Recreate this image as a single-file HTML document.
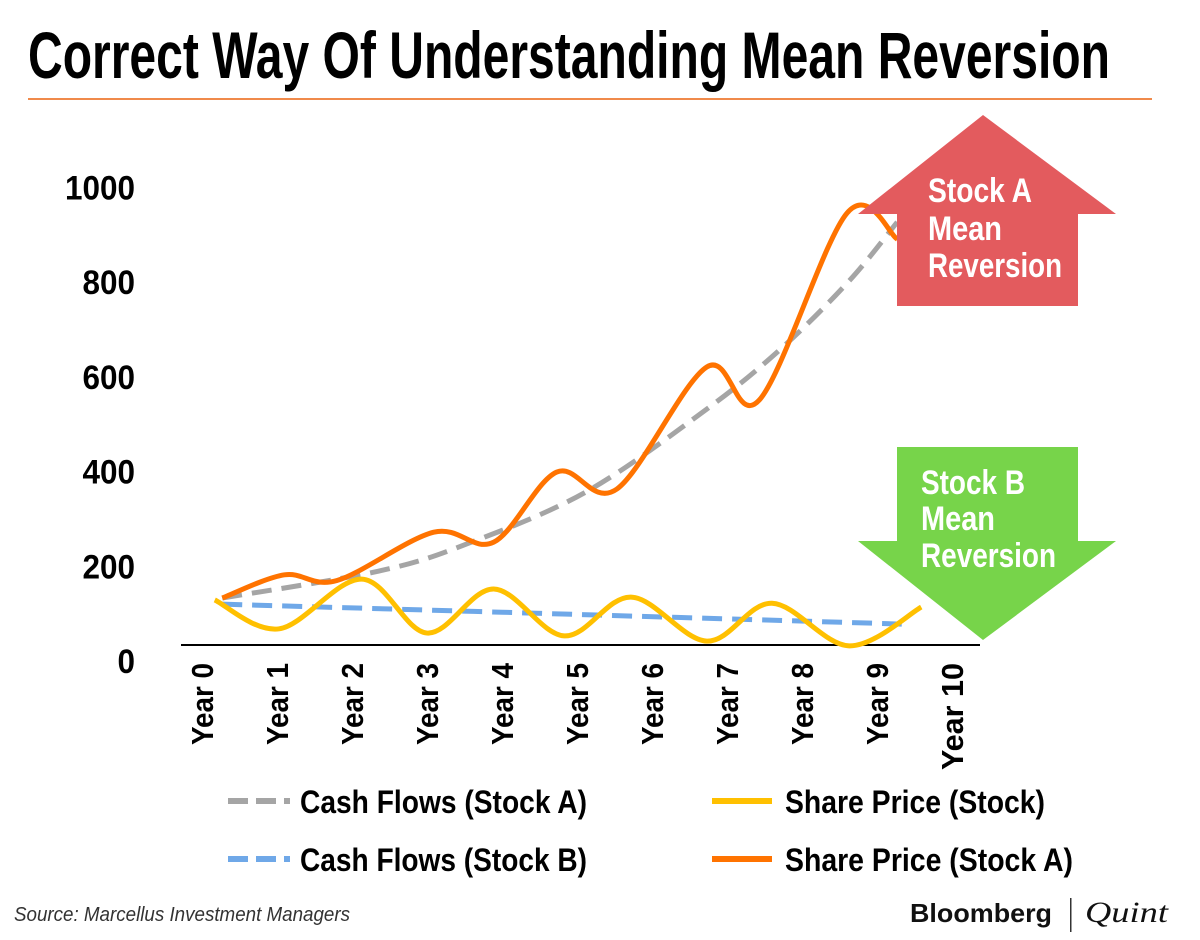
<!DOCTYPE html>
<html><head><meta charset="utf-8"><style>
body{margin:0;background:#fff;}
svg text{font-family:"Liberation Sans Narrow","Liberation Sans",sans-serif;font-weight:bold;}
</style></head><body>
<svg id="c" width="1200" height="935" viewBox="0 0 1200 935">
<text x="28" y="78" font-size="66" fill="#000" textLength="1082" lengthAdjust="spacingAndGlyphs">Correct Way Of Understanding Mean Reversion</text>
<rect x="28" y="98" width="1124" height="2" fill="#f08a4b"/>
<g id="yax"></g>
<g id="xax"></g>
<g id="series"></g>
<g>
<polygon points="983,115 1116,214 1078,214 1078,306 897,306 897,214 858,214" fill="#e35b5e"/>
<text x="928" y="202" font-size="34" fill="#fff" textLength="104" lengthAdjust="spacingAndGlyphs">Stock A</text>
<text x="928" y="240" font-size="34" fill="#fff" textLength="74" lengthAdjust="spacingAndGlyphs">Mean</text>
<text x="928" y="277" font-size="34" fill="#fff" textLength="134" lengthAdjust="spacingAndGlyphs">Reversion</text>
</g>
<g>
<polygon points="897,447 1078,447 1078,541 1116,541 983,640 858,541 897,541" fill="#77d44a"/>
<text x="921" y="494" font-size="34" fill="#fff" textLength="104" lengthAdjust="spacingAndGlyphs">Stock B</text>
<text x="921" y="530" font-size="34" fill="#fff" textLength="74" lengthAdjust="spacingAndGlyphs">Mean</text>
<text x="921" y="567" font-size="34" fill="#fff" textLength="135" lengthAdjust="spacingAndGlyphs">Reversion</text>
</g>
<g>
<g><line x1="228" y1="801" x2="290" y2="801" stroke="#a5a5a5" stroke-width="6" stroke-dasharray="20,8"/><text x="300" y="813" font-size="32" fill="#000" textLength="287" lengthAdjust="spacingAndGlyphs">Cash Flows (Stock A)</text></g>
<g><line x1="712" y1="801" x2="772" y2="801" stroke="#ffc000" stroke-width="6"/><text x="785" y="813" font-size="32" fill="#000" textLength="260" lengthAdjust="spacingAndGlyphs">Share Price (Stock)</text></g>
<g><line x1="228" y1="859" x2="290" y2="859" stroke="#6fa8e8" stroke-width="6" stroke-dasharray="20,8"/><text x="300" y="871" font-size="32" fill="#000" textLength="287" lengthAdjust="spacingAndGlyphs">Cash Flows (Stock B)</text></g>
<g><line x1="712" y1="859" x2="772" y2="859" stroke="#ff7300" stroke-width="6"/><text x="785" y="871" font-size="32" fill="#000" textLength="288" lengthAdjust="spacingAndGlyphs">Share Price (Stock A)</text></g>
</g>
<text x="14" y="921" font-size="20" font-style="italic" style="font-weight:normal" fill="#333" textLength="336" lengthAdjust="spacingAndGlyphs">Source: Marcellus Investment Managers</text>
<text x="910" y="922" font-size="26" fill="#111" textLength="142" lengthAdjust="spacingAndGlyphs">Bloomberg</text>
<rect x="1070" y="898" width="1.5" height="34" fill="#333"/>
<text x="1085" y="922" font-size="30" font-style="italic" fill="#111" textLength="83" lengthAdjust="spacingAndGlyphs" style="font-family:'Liberation Serif',serif;font-weight:normal">Quint</text>
</svg>
<script>
const categories=["Year 0","Year 1","Year 2","Year 3","Year 4","Year 5","Year 6","Year 7","Year 8","Year 9","Year 10"];
const yTicks=[0,200,400,600,800,1000];
const orangeT=[0.27,1.1,1.8,3.09,3.89,4.73,5.53,6.73,7.43,8.6,9.27];
const orangeV=[133,182,170,272,251,399,363,621,551,946,891];
const grayT=[0.27,2.36,3.56,5.13,6.73,7.73,8.63,9.27];
const grayV=[133,190,249,358,532,661,803,927];
const blueT=[0.27,4,9.33];
const blueV=[120,103,78];
const yellowT=[0.17,1.03,2.13,3.0,3.89,4.83,5.72,6.73,7.6,8.63,9.59];
const yellowV=[129,68,173,59,152,53,135,42,122,32,114];

const NS="http://www.w3.org/2000/svg";
function X(t){return 202+t*75;}
function Y(v){return 661-v*0.4735;}
function mk(tag,attrs,parent){const e=document.createElementNS(NS,tag);for(const k in attrs)e.setAttribute(k,attrs[k]);parent.appendChild(e);return e;}
const yax=document.getElementById('yax'),xax=document.getElementById('xax'),ser=document.getElementById('series');
yTicks.forEach(v=>{
  const s=String(v);
  const t=mk('text',{x:135,y:Y(v)+12,'font-size':34,'text-anchor':'end',fill:'#000',textLength:s.length*17.5,lengthAdjust:'spacingAndGlyphs'},yax);
  
  
  t.textContent=s;
});
const ax=mk('line',{x1:181,y1:645,x2:980,y2:645,stroke:'#000','stroke-width':2},xax);


categories.forEach((c,i)=>{
  const x=X(i)+11;
  const t=mk('text',{x:0,y:0,'font-size':31,'text-anchor':'end',fill:'#000',textLength:c.length>6?107:82,lengthAdjust:'spacingAndGlyphs',transform:`translate(${x},663) rotate(-90)`},xax);
  
  
  t.textContent=c;
});
function smooth(ts,vs){
  const p=ts.map((t,i)=>[X(t),Y(vs[i])]);
  let d=`M${p[0][0]},${p[0][1]}`;
  for(let i=0;i<p.length-1;i++){
    const p0=p[Math.max(0,i-1)],p1=p[i],p2=p[i+1],p3=p[Math.min(p.length-1,i+2)];
    const c1=[p1[0]+(p2[0]-p0[0])/6,p1[1]+(p2[1]-p0[1])/6];
    const c2=[p2[0]-(p3[0]-p1[0])/6,p2[1]-(p3[1]-p1[1])/6];
    d+=`C${c1[0]},${c1[1]} ${c2[0]},${c2[1]} ${p2[0]},${p2[1]}`;
  }
  return d;
}
const s1=mk('path',{d:smooth(blueT,blueV),fill:'none',stroke:'#6fa8e8','stroke-width':5,'stroke-dasharray':'20,10'},ser);


const s2=mk('path',{d:smooth(grayT,grayV),fill:'none',stroke:'#a5a5a5','stroke-width':5,'stroke-dasharray':'20,10'},ser);


const s3=mk('path',{d:smooth(yellowT,yellowV),fill:'none',stroke:'#ffc000','stroke-width':5},ser);


const s4=mk('path',{d:smooth(orangeT,orangeV),fill:'none',stroke:'#ff7300','stroke-width':5},ser);


</script>
</body></html>
